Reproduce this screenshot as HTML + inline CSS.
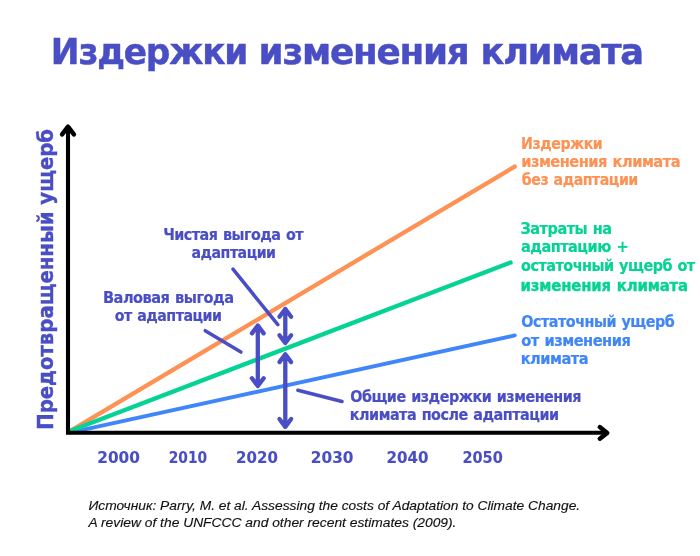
<!DOCTYPE html>
<html lang="ru">
<head>
<meta charset="utf-8">
<title>Издержки изменения климата</title>
<style>
html,body{margin:0;padding:0;background:#fff;}
body{width:700px;height:556px;overflow:hidden;}
svg{display:block;}
.tb{font-family:"DejaVu Sans","Liberation Sans",sans-serif;font-weight:bold;}
.vb,.vb2,.tb2{font-family:"DejaVu Sans","Liberation Sans",sans-serif;font-weight:bold;}
.src{font-family:"Liberation Sans",sans-serif;font-style:italic;}
</style>
</head>
<body>
<svg width="700" height="556" viewBox="0 0 700 556">
<rect width="700" height="556" fill="#fff"/>
<!-- data lines -->
<g fill="none" stroke-linecap="round">
<line x1="70" y1="431.2" x2="514.7" y2="166.6" stroke="#fd9254" stroke-width="4.3"/>
<line x1="70" y1="432.7" x2="514.8" y2="335.4" stroke="#4086f8" stroke-width="3.9"/>
<line x1="70" y1="431" x2="510.6" y2="262.5" stroke="#04d394" stroke-width="4.3"/>
</g>
<!-- axes -->
<g fill="none" stroke="#000" stroke-linecap="round" stroke-linejoin="round">
<path d="M68 127 V432.8 H607" stroke-width="4.1" stroke-linejoin="miter" stroke-linecap="butt"/>
<path d="M62.1 134.4 L68 126.7 L73.9 134.4" stroke-width="4.5"/>
<path d="M599.8 427.1 L607.2 432.9 L599.8 438.7" stroke-width="4.5"/>
</g>
<!-- connectors and double arrows -->
<g fill="none" stroke="#494ec4" stroke-linecap="round" stroke-linejoin="round" stroke-width="4.3">
<line x1="233" y1="269.2" x2="277.8" y2="324.6" stroke-width="3.5"/>
<line x1="205.2" y1="330.7" x2="240.9" y2="352.1" stroke-width="3.5"/>
<line x1="297.9" y1="390.3" x2="342" y2="401.5" stroke-width="3.6"/>
<path d="M257.8 325.55 V386.05 M251.95 333.35 L257.8 325.55 L263.65 333.35 M251.95 378.25 L257.8 386.05 L263.65 378.25"/>
<path d="M285.3 309.00 V343.05 M279.45 316.80 L285.3 309.00 L291.15 316.80 M279.45 335.25 L285.3 343.05 L291.15 335.25"/>
<path d="M285.3 354.30 V426.85 M279.45 362.10 L285.3 354.30 L291.15 362.10 M279.45 419.05 L285.3 426.85 L291.15 419.05"/>
</g>

<text class="tb" fill="#494ec4" font-size="36.3" letter-spacing="-1.27" word-spacing="2.54" stroke="#494ec4" stroke-width="0.44" transform="translate(50.84,64.1) scale(0.9470,1)">Издержки</text>
<text class="tb" fill="#494ec4" font-size="36.3" letter-spacing="-1.27" word-spacing="2.54" stroke="#494ec4" stroke-width="0.44" transform="translate(258.56,64.1) scale(0.9866,1)">изменения</text>
<text class="tb" fill="#494ec4" font-size="36.3" letter-spacing="-1.27" word-spacing="2.54" stroke="#494ec4" stroke-width="0.44" transform="translate(480.51,64.1) scale(0.9697,1)">климата</text>
<text class="tb" fill="#494ec4" font-size="15" letter-spacing="-0.53" word-spacing="1.05" stroke="#494ec4" stroke-width="0.18" transform="translate(163.22,240.4) scale(0.9568,1)">Чистая выгода от</text>
<text class="tb" fill="#494ec4" font-size="15" letter-spacing="-0.53" word-spacing="1.05" stroke="#494ec4" stroke-width="0.18" transform="translate(191.53,257.8) scale(0.9459,1)">адаптации</text>
<text class="tb" fill="#494ec4" font-size="15" letter-spacing="-0.53" word-spacing="1.05" stroke="#494ec4" stroke-width="0.18" transform="translate(102.98,303.1) scale(0.9727,1)">Валовая выгода</text>
<text class="tb" fill="#494ec4" font-size="15" letter-spacing="-0.53" word-spacing="1.05" stroke="#494ec4" stroke-width="0.18" transform="translate(114.73,321.4) scale(0.9489,1)">от адаптации</text>
<text class="tb" fill="#494ec4" font-size="15" letter-spacing="-0.53" word-spacing="1.05" stroke="#494ec4" stroke-width="0.18" transform="translate(350.20,401.5) scale(0.9589,1)">Общие издержки изменения</text>
<text class="tb" fill="#494ec4" font-size="15" letter-spacing="-0.53" word-spacing="1.05" stroke="#494ec4" stroke-width="0.18" transform="translate(349.82,419.6) scale(0.9602,1)">климата после адаптации</text>
<text class="tb" fill="#fd9254" font-size="15" letter-spacing="-0.53" word-spacing="1.05" stroke="#fd9254" stroke-width="0.18" transform="translate(521.11,148.9) scale(0.9481,1)">Издержки</text>
<text class="tb" fill="#fd9254" font-size="15" letter-spacing="-0.53" word-spacing="1.05" stroke="#fd9254" stroke-width="0.18" transform="translate(521.20,166.9) scale(0.9761,1)">изменения климата</text>
<text class="tb" fill="#fd9254" font-size="15" letter-spacing="-0.53" word-spacing="1.05" stroke="#fd9254" stroke-width="0.18" transform="translate(521.83,185.1) scale(0.9475,1)">без адаптации</text>
<text class="tb" fill="#04d394" font-size="15" letter-spacing="-0.53" word-spacing="1.05" stroke="#04d394" stroke-width="0.18" transform="translate(520.55,233.9) scale(0.9673,1)">Затраты на</text>
<text class="tb" fill="#04d394" font-size="15" letter-spacing="-0.53" word-spacing="1.05" stroke="#04d394" stroke-width="0.18" transform="translate(520.92,252.1) scale(0.9682,1)">адаптацию +</text>
<text class="tb" fill="#04d394" font-size="15" letter-spacing="-0.53" word-spacing="1.05" stroke="#04d394" stroke-width="0.18" transform="translate(521.12,270.8) scale(0.9601,1)">остаточный ущерб от</text>
<text class="tb2" fill="#04d394" font-size="16.6" letter-spacing="-0.17" word-spacing="0.83" stroke="#04d394" stroke-width="0.37" transform="translate(520.48,291.0) scale(0.8963,1)">изменения климата</text>
<text class="tb" fill="#4086f8" font-size="15" letter-spacing="-0.53" word-spacing="1.05" stroke="#4086f8" stroke-width="0.18" transform="translate(521.20,327.3) scale(0.9590,1)">Остаточный ущерб</text>
<text class="tb" fill="#4086f8" font-size="15" letter-spacing="-0.53" word-spacing="1.05" stroke="#4086f8" stroke-width="0.18" transform="translate(521.31,345.9) scale(0.9774,1)">от изменения</text>
<text class="tb" fill="#4086f8" font-size="15" letter-spacing="-0.53" word-spacing="1.05" stroke="#4086f8" stroke-width="0.18" transform="translate(520.70,364.1) scale(0.9763,1)">климата</text>
<text class="vb2" fill="#494ec4" font-size="15.1" stroke="#494ec4" stroke-width="0.12" transform="translate(97.26,462.8) scale(1.0137,1)">2000</text>
<text class="vb2" fill="#494ec4" font-size="15.1" stroke="#494ec4" stroke-width="0.12" transform="translate(168.77,462.8) scale(0.9143,1)">2010</text>
<text class="vb2" fill="#494ec4" font-size="15.1" stroke="#494ec4" stroke-width="0.12" transform="translate(236.08,462.8) scale(0.9938,1)">2020</text>
<text class="vb2" fill="#494ec4" font-size="15.1" stroke="#494ec4" stroke-width="0.12" transform="translate(310.86,462.8) scale(1.0137,1)">2030</text>
<text class="vb2" fill="#494ec4" font-size="15.1" stroke="#494ec4" stroke-width="0.12" transform="translate(386.47,462.8) scale(1.0012,1)">2040</text>
<text class="vb2" fill="#494ec4" font-size="15.1" stroke="#494ec4" stroke-width="0.12" transform="translate(462.42,462.8) scale(0.9615,1)">2050</text>
<text class="src" fill="#111" font-size="13.7" stroke="#111" stroke-width="0.14" transform="translate(88.42,510.0) scale(1.0071,1)">Источник: Parry, M. et al. Assessing the costs of Adaptation to Climate Change.</text>
<text class="src" fill="#111" font-size="13.7" stroke="#111" stroke-width="0.14" transform="translate(88.46,526.6) scale(1.0093,1)">A review of the UNFCCC and other recent estimates (2009).</text>
<text class="vb" fill="#494ec4" font-size="21.3" stroke="#494ec4" stroke-width="0.43" transform="translate(52.9,429.82) rotate(-90) scale(0.9237,1)">Предотвращенный ущерб</text>
</svg>
</body>
</html>
